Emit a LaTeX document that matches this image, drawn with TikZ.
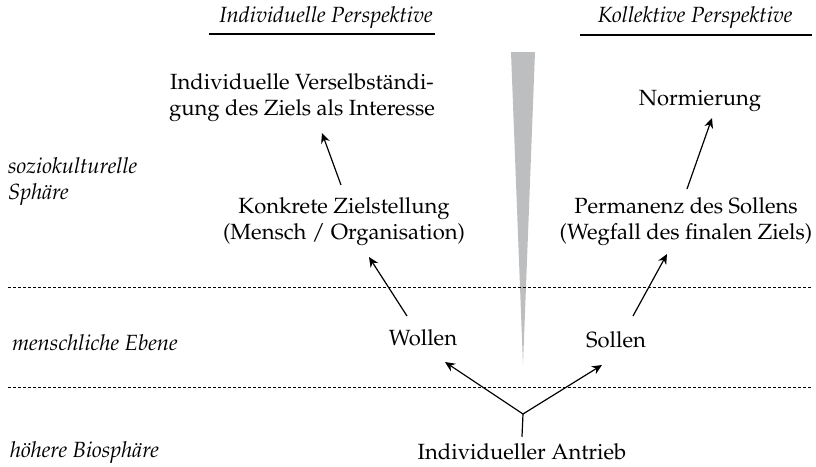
\documentclass[tikz,border=0pt]{standalone}
\usepackage[T1]{fontenc}
\usepackage{mathpazo}
\usepackage{tikz}
\usetikzlibrary{arrows.meta}

\definecolor{keilgrau}{RGB}{189,190,192}

\begin{document}
\begin{tikzpicture}[x=0.5pt,y=-0.5pt,
    every node/.style={font=\fontsize{11}{13}\selectfont},
    txt/.style={align=center},
    kursiv/.style={font=\fontsize{11}{13}\selectfont\itshape},
    ebene/.style={kursiv,anchor=west,align=left},
    trenn/.style={line width=0.5pt,dash pattern=on 1.5pt off 1pt},
    pfeil/.style={line width=0.6pt,-{Stealth[length=5pt,width=4.5pt]}}]
\useasboundingbox (0,0) rectangle (816,467);

% Keil in der Mitte
\fill[keilgrau] (511,52) -- (535,52) -- (523,365) -- cycle;

% Ebenen
\draw[trenn] (8,287) -- (812,287);
\draw[trenn] (8,387) -- (812,387);
\node[ebene] (sozio) at (1,182) {soziokulturelle\\Sph\"are};
\node[ebene] (mensch) at (5,343) {menschliche Ebene};
\node[ebene] (bio) at (3,453) {h\"ohere Biosph\"are};

% Perspektiven
\node[kursiv] (indiv) at (326,18) {Individuelle Perspektive};
\node[kursiv] (koll) at (695,18) {Kollektive Perspektive};
\draw[line width=0.6pt] (209,34) -- (435,34);
\draw[line width=0.6pt] (580,35) -- (812,35);

\node[txt] (versel) at (302,98) {Individuelle Verselbst\"andi-\\gung des Ziels als Interesse};
\node (norm) at (700,101) {Normierung};
\node[txt] (konkret) at (344,222) {Konkrete Zielstellung\\(Mensch / Organisation)};
\node[txt] (perm) at (686,222) {Permanenz des Sollens\\(Wegfall des finalen Ziels)};
\node (wollen) at (423,338) {Wollen};
\node (sollen) at (616,340) {Sollen};
\node (antrieb) at (522,452) {Individueller Antrieb};
\coordinate (gabel) at (523,414);

\draw[line width=0.6pt] (antrieb.north) -- (gabel);
\draw[pfeil] (gabel) -- ([shift={(22,24)}]wollen.center);
\draw[pfeil] (gabel) -- ([shift={(-14,25)}]sollen.center);
\draw[pfeil] ([shift={(-16,-22)}]wollen.center) -- ([shift={(25,35)}]konkret.center);
\draw[pfeil] ([shift={(17,-24)}]sollen.center) -- ([shift={(-19,32)}]perm.center);
\draw[pfeil] ([shift={(-3,-37)}]konkret.center) -- ([shift={(20,35)}]versel.center);
\draw[pfeil] ([shift={(1,-33)}]perm.center) -- ([shift={(12,17)}]norm.center);
\end{tikzpicture}
\end{document}
